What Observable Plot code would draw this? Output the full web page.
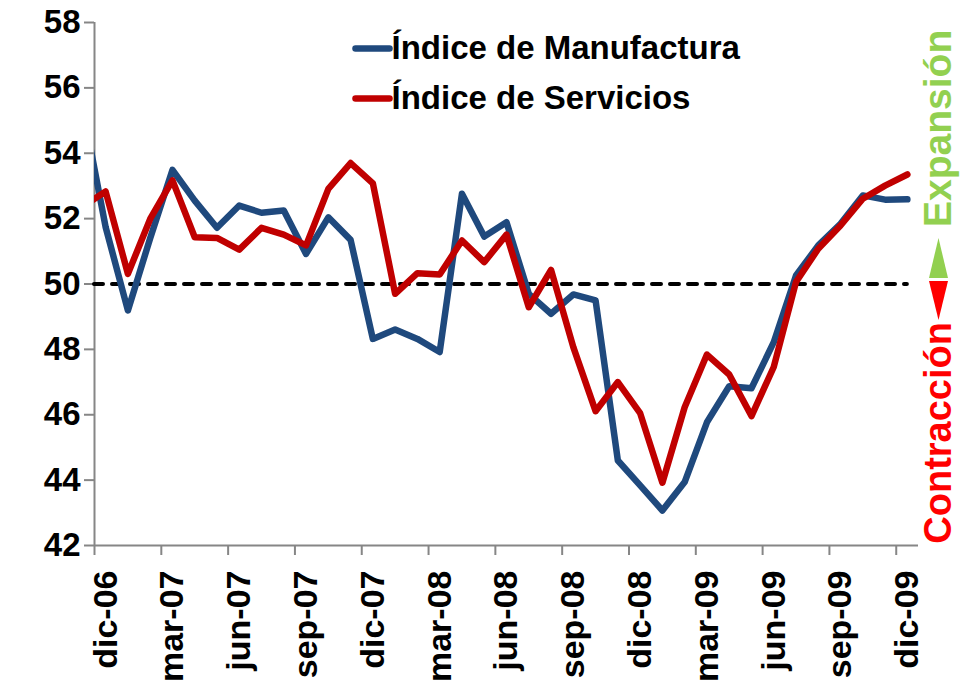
<!DOCTYPE html>
<html>
<head>
<meta charset="utf-8">
<script src="https://cdn.jsdelivr.net/npm/d3@7"></script>
<script src="https://cdn.jsdelivr.net/npm/@observablehq/plot@0.6"></script>
<style>
  html, body { margin: 0; padding: 0; background: #ffffff; }
  #chart { width: 967px; height: 690px; }
</style>
</head>
<body>
<div id="chart"></div>
<script>
// Months (first one, nov-06, lies left of the axis and is clipped)
const months = ["nov-06","dic-06","ene-07","feb-07","mar-07","abr-07","may-07","jun-07","jul-07","ago-07","sep-07","oct-07","nov-07",
  "dic-07","ene-08","feb-08","mar-08","abr-08","may-08","jun-08","jul-08","ago-08","sep-08","oct-08","nov-08",
  "dic-08","ene-09","feb-09","mar-09","abr-09","may-09","jun-09","jul-09","ago-09","sep-09","oct-09","nov-09","dic-09"];

const manufactura = [55.3, 51.74, 49.19, 51.4, 53.49, 52.55, 51.72, 52.40, 52.18, 52.25, 50.92, 52.04, 51.35,
  48.32, 48.61, 48.32, 47.92, 52.76, 51.45, 51.89, 49.70, 49.09, 49.68, 49.50, 44.60,
  43.84, 43.07, 43.94, 45.77, 46.87, 46.81, 48.22, 50.26, 51.18, 51.84, 52.71, 52.58, 52.59];

const servicios = [52.39, 52.83, 50.31, 51.99, 53.17, 51.43, 51.41, 51.05, 51.72, 51.51, 51.18, 52.91, 53.70,
  53.08, 49.70, 50.33, 50.29, 51.33, 50.67, 51.51, 49.29, 50.43, 48.07, 46.11, 47.00,
  46.05, 43.92, 46.23, 47.84, 47.23, 45.96, 47.46, 50.06, 51.08, 51.79, 52.61, 53.01, 53.35];

const tickLabels = ["dic-06","mar-07","jun-07","sep-07","dic-07","mar-08","jun-08","sep-08","dic-08","mar-09","jun-09","sep-09","dic-09"];
const yTicks = [42, 44, 46, 48, 50, 52, 54, 56, 58];
const seriesNames = ["Índice de Manufactura", "Índice de Servicios"];
const umbral = 50;
const zoneLabels = ["Expansión", "Contracción"];

const blue = "#1F497D";
const red = "#C00000";
const gray = "#868686";
const FONT = "'Liberation Sans', Arial, Helvetica, sans-serif";

// position: dic-06 = 0
const pos = (m) => months.indexOf(m) - 1;
const rows = months.map((m, i) => ({m, x: i - 1, manu: manufactura[i], serv: servicios[i]}));
const tickBoundaries = tickLabels.map((m) => pos(m) - 0.5);
const xMin = pos(tickLabels[0]) - 0.5;
const xMax = pos(tickLabels[tickLabels.length - 1]) + 0.5;
const lastX = pos(months[months.length - 1]);

const legendLine = {draw(ctx) { ctx.moveTo(-17, 0); ctx.lineTo(17, 0); }};
const upTri = {draw(ctx) { ctx.moveTo(0, -46); ctx.lineTo(9.5, -6); ctx.lineTo(-9.5, -6); ctx.closePath(); }};
const downTri = {draw(ctx) { ctx.moveTo(-9.5, -3); ctx.lineTo(9.5, -3); ctx.lineTo(0, 36); ctx.closePath(); }};

const chart = Plot.plot({
  width: 967,
  height: 690,
  marginLeft: 94,
  marginRight: 49,
  marginTop: 22,
  marginBottom: 145,
  style: {fontFamily: FONT, background: "#ffffff", color: "black"},
  x: {type: "linear", domain: [xMin, xMax], axis: null},
  y: {domain: [yTicks[0], yTicks[yTicks.length - 1]], axis: null},
  marks: [
    // y axis
    Plot.axisY({ticks: yTicks, tickSize: 10, tickPadding: 4, stroke: gray, strokeWidth: 2,
      fill: "black", fontSize: 33, fontWeight: "bold", label: null, tickFormat: (d) => String(d)}),
    Plot.ruleX([xMin], {stroke: gray, strokeWidth: 2}),
    // x axis
    Plot.axisX({ticks: tickBoundaries, tickSize: 10, stroke: gray, strokeWidth: 2, tickFormat: () => "", label: null}),
    Plot.ruleY([yTicks[0]], {stroke: gray, strokeWidth: 2}),
    Plot.text(tickLabels, {x: pos, text: (d) => d, frameAnchor: "bottom", rotate: -90, textAnchor: "end",
      lineAnchor: "middle", dy: 25, fontSize: 34, fontWeight: "bold", fill: "black"}),
    // 50 threshold
    Plot.ruleY([umbral], {x1: xMin, x2: lastX, stroke: "black", strokeWidth: 4, strokeDasharray: "9,9", strokeLinecap: "round"}),
    // series
    Plot.line(rows, {x: "x", y: "manu", stroke: blue, strokeWidth: 6.5, strokeLinejoin: "round", strokeLinecap: "round", clip: true}),
    Plot.line(rows, {x: "x", y: "serv", stroke: red, strokeWidth: 6.5, strokeLinejoin: "round", strokeLinecap: "round", clip: true}),
    // legend
    Plot.dot([seriesNames[0]], {frameAnchor: "top-left", dx: 278, dy: 26, symbol: legendLine, fill: "none", stroke: blue, strokeWidth: 6.5, strokeLinecap: "round"}),
    Plot.dot([seriesNames[1]], {frameAnchor: "top-left", dx: 278, dy: 76, symbol: legendLine, fill: "none", stroke: red, strokeWidth: 6.5, strokeLinecap: "round"}),
    Plot.text([seriesNames[0]], {frameAnchor: "top-left", dx: 297, dy: 26, text: (d) => d, textAnchor: "start", lineAnchor: "middle", fontSize: 33, fontWeight: "bold", fill: "black"}),
    Plot.text([seriesNames[1]], {frameAnchor: "top-left", dx: 297, dy: 76, text: (d) => d, textAnchor: "start", lineAnchor: "middle", fontSize: 33, fontWeight: "bold", fill: "black"}),
    // expansion / contraction markers
    Plot.dot([umbral], {y: (d) => d, frameAnchor: "right", dx: 20, symbol: upTri, fill: "#92D050", stroke: "none"}),
    Plot.dot([umbral], {y: (d) => d, frameAnchor: "right", dx: 20, symbol: downTri, fill: "#FF0000", stroke: "none"}),
    Plot.text([zoneLabels[0]], {y: () => umbral, frameAnchor: "right", dx: 20, dy: -57, text: (d) => d, rotate: -90,
      textAnchor: "start", lineAnchor: "middle", fontSize: 39, fontWeight: "bold", fill: "#92D050"}),
    Plot.text([zoneLabels[1]], {y: () => umbral, frameAnchor: "right", dx: 20, dy: 38, text: (d) => d, rotate: -90,
      textAnchor: "end", lineAnchor: "middle", fontSize: 38, fontWeight: "bold", fill: "#FF0000"})
  ]
});
document.getElementById("chart").appendChild(chart);
</script>
</body>
</html>
